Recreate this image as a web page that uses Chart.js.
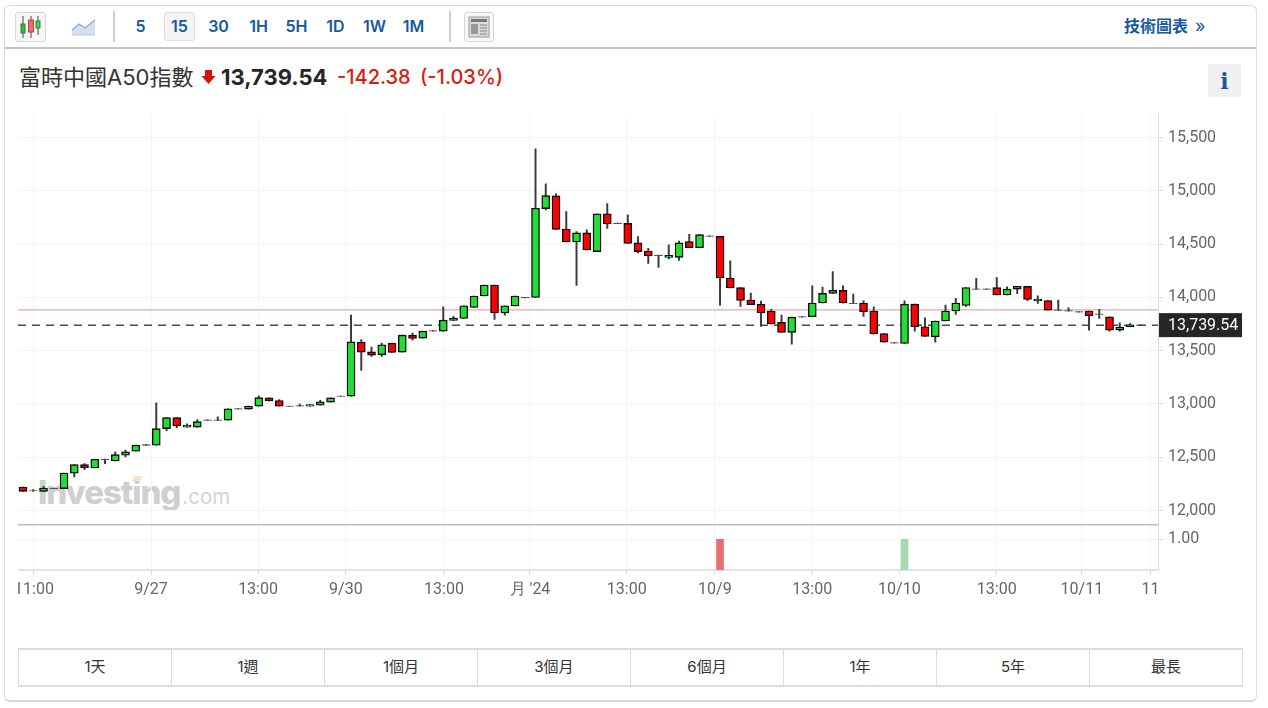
<!DOCTYPE html>
<html lang="zh-Hant">
<head>
<meta charset="utf-8">
<script src="https://cdn.jsdelivr.net/npm/chart.js@4"></script>
<style>
html,body{margin:0;padding:0;background:#fff;width:1268px;height:708px;overflow:hidden;font-family:Inter,"Noto Sans CJK TC",sans-serif}
.abs{position:absolute}
#card{left:4px;top:5px;width:1251px;height:694px;border:1px solid #dcdcdc;border-bottom:2px solid #d8d8d8;border-radius:6px;box-sizing:content-box}
#barline{left:5px;top:47px;width:1251px;height:2px;background:#c4c4c4}
.sep{top:11px;width:2px;height:31px;background:#cfcfcf}
.tf{top:12px;height:29px;line-height:29px;width:31px;text-align:center;color:#15589f;font-weight:600;font-size:16px;box-sizing:border-box}
.tf.on{border:1px solid #ddd;border-radius:3px;background:#f4f4f4;line-height:27px}
.iconbox{border:1px solid #d6d6d6;border-radius:3px;background:#f7f7f7;box-sizing:border-box}
#chartWrap{left:18px;top:100px;width:1226px;height:510px}
#range{left:18px;top:648px;width:1225px;height:39px;display:flex;border:1px solid #dcdcdc;border-top-width:2px;border-bottom-width:2px;box-sizing:border-box}
#range div{flex:1;text-align:center;font-size:15px;line-height:34px;color:#333;border-left:1px solid #dcdcdc}
#range div:first-child{border-left:none}
#wm{left:38px;top:471px;font-size:33px;font-weight:800;color:#cfcfcf;letter-spacing:-1.1px;font-family:Inter,sans-serif;line-height:42px}
#wm span{font-weight:400;font-size:20.500px;letter-spacing:0;color:#d4d4d4;margin-left:2px}
</style>
</head>
<body>
<div class="abs" id="card"></div>
<div class="abs" id="barline"></div>
<div class="abs iconbox" style="left:15px;top:12px;width:31px;height:30px">
<svg width="29" height="28"><g stroke="#444" stroke-width="1"><path d="M7 3V25M15 3V25M22 3V22"/></g><rect x="5" y="11" width="4" height="9" fill="#2ebd3a" stroke="#2a7d33"/><rect x="12.500" y="7" width="5" height="12" fill="#ef6a6a" stroke="#b84444"/><rect x="20" y="8" width="4" height="7" fill="#59c957" stroke="#2a7d33"/></svg></div>
<svg class="abs" style="left:71px;top:17px" width="25" height="20"><path d="M1 13L8 7L14 11L24 3V18H1Z" fill="#d5e0ef"/><path d="M1 13L8 7L14 11L24 3" fill="none" stroke="#8ca6c8" stroke-width="1.300"/><path d="M1 18H24" stroke="#b7c7de"/></svg>
<div class="abs sep" style="left:113px"></div>
<div class="abs tf" style="left:125px">5</div>
<div class="abs tf on" style="left:164px">15</div>
<div class="abs tf" style="left:203px">30</div>
<div class="abs tf" style="left:243px">1H</div>
<div class="abs tf" style="left:281px">5H</div>
<div class="abs tf" style="left:320px">1D</div>
<div class="abs tf" style="left:359px">1W</div>
<div class="abs tf" style="left:398px">1M</div>
<div class="abs sep" style="left:449px"></div>
<div class="abs iconbox" style="left:464px;top:12px;width:30px;height:30px">
<svg width="28" height="28"><rect x="4" y="4" width="20" height="20" fill="#d9d9d9" stroke="#9a9a9a"/><rect x="6" y="6" width="16" height="3" fill="#777"/><rect x="6" y="11" width="7" height="10" fill="#999"/><path d="M15 12H22M15 15H22M15 18H22M15 21H22" stroke="#888"/></svg></div>
<div class="abs" style="left:1124px;top:15px;font-size:16px;font-weight:600;color:#15589f;line-height:22px">技術圖表<span style="font-weight:400;font-size:18px;margin-left:7px">»</span></div>

<div class="abs" style="left:19px;top:62px;font-size:22px;line-height:30px;color:#333">富時中國A50指數</div>
<svg class="abs" style="left:201px;top:69px" width="15" height="16"><path d="M4 1H11V7H14.500L7.500 15L0.500 7H4Z" fill="#dd1100"/></svg>
<div class="abs" style="left:221px;top:62px;font-size:22px;line-height:30px;font-weight:700;color:#262626">13,739.54</div>
<div class="abs" style="left:337px;top:62px;font-size:20px;line-height:30px;font-weight:500;color:#dd1b0f">-142.38</div>
<div class="abs" style="left:420px;top:62px;font-size:20px;line-height:30px;font-weight:500;color:#dd1b0f">(-1.03%)</div>
<div class="abs" style="left:1208px;top:64px;width:33px;height:33px;background:#f0f0f0;border-radius:2px;text-align:center;font:bold 22px/35px 'DejaVu Serif',serif;color:#15589f">i</div>

<div class="abs" id="wm">Investing<span>.com</span></div>
<div class="abs" style="left:133px;top:476px;width:8px;height:5px;background:#f6e2c4;transform:skewX(-20deg)"></div>
<div class="abs" id="chartWrap"><canvas id="c" width="1226" height="510"></canvas></div>

<div class="abs" id="range"><div>1天</div><div>1週</div><div>1個月</div><div>3個月</div><div>6個月</div><div>1年</div><div>5年</div><div>最長</div></div>

<script>
const opens = [12221,12183,12180,12206,12205,12350,12430,12399,12478,12465,
12519,12556,12612,12613,12769,12872,12782,12782,12845,12845,
12848,12951,12951,12979,13057,13032,12976,12979,12979,12988,
13017,13070,13073,13580,13489,13461,13571,13486,13646,13618,
13684,13684,13783,13802,13905,14013,14116,13853,13919,13996,
13999,14833,14952,14642,14520,14605,14429,14783,14692,14695,
14511,14435,14391,14375,14375,14523,14466,14573,14573,14182,
14091,13975,13937,13872,13765,13671,13815,13818,13947,14037,
14065,13940,13947,13872,13661,13571,13567,13937,13724,13630,
13778,13872,13924,14075,14075,14091,14022,14078,14103,13966,
13971,13878,13870,13862,13872,13840,13818,13693,13724,13737];
const highs = [12221,12197,12226,12211,12352,12430,12440,12481,12483,12550,
12568,12613,12618,13010,12872,12872,12813,12853,12850,12879,
12954,12956,12979,13076,13057,13041,12981,12998,12994,13035,
13057,13075,13834,13605,13533,13571,13571,13646,13665,13684,
13689,13912,13821,13921,14013,14116,14116,13921,14013,14001,
15394,15065,14971,14805,14617,14633,14783,14880,14697,14774,
14570,14460,14396,14492,14529,14591,14589,14578,14573,14344,
14091,14041,13966,13887,13834,13815,13820,14109,14097,14241,
14109,14031,13968,13912,13661,13576,13968,13937,13809,13778,
13928,13990,14093,14178,14080,14185,14100,14103,14103,14015,
13971,13975,13903,13867,13872,13887,13818,13762,13755,13742];
const lows = [12180,12180,12180,12206,12205,12315,12383,12399,12440,12465,
12503,12556,12612,12613,12750,12778,12782,12782,12845,12845,
12848,12951,12951,12979,13029,12979,12976,12979,12979,12988,
13017,13070,13073,13314,13445,13445,13483,13486,13599,13618,
13684,13684,13783,13802,13905,14013,13793,13834,13919,13996,
13999,14821,14638,14520,14112,14445,14429,14648,14692,14507,
14417,14319,14281,14360,14347,14466,14466,14573,13928,14088,
13915,13931,13727,13750,13671,13562,13815,13818,13947,14037,
13947,13940,13821,13656,13580,13571,13567,13684,13633,13579,
13778,13840,13915,14075,14075,14022,14022,14034,13968,13943,
13881,13878,13870,13862,13693,13802,13684,13684,13724,13737];
const closes = [12180,12188,12211,12211,12352,12430,12402,12481,12483,12524,
12550,12613,12618,12769,12872,12794,12801,12834,12850,12850,
12954,12956,12979,13060,13029,12979,12981,12984,12994,13019,
13057,13075,13583,13486,13458,13555,13483,13646,13614,13684,
13689,13787,13806,13921,14013,14116,13853,13921,14013,14001,
14836,14955,14638,14520,14605,14445,14783,14689,14697,14507,
14429,14388,14396,14394,14511,14466,14589,14578,14182,14088,
13971,13931,13853,13750,13671,13815,13820,13947,14037,14065,
13947,13945,13865,13656,13580,13576,13937,13724,13633,13778,
13872,13947,14093,14080,14080,14022,14078,14103,13981,13984,
13881,13883,13875,13867,13828,13845,13693,13721,13743,13742];
const volumeBars = [{i:68,v:1,up:false},{i:86,v:1,up:true}];
const lastPrice = 13739.54;
const prevClose = 13881.92;
const priceTicks = [12000,12500,13000,13500,14000,14500,15000,15500];
const volumeTicks = [1];
const xTickIndex = [1.07,12.49,22.93,31.5,41.07,49.46,58.9,67.5,77,85.5,95,103.3,110];
const xTickLabels = ['11:00','9/27','13:00','9/30','13:00',"月 '24",'13:00','10/9','13:00','10/10','13:00','10/11','11'];

const xMin = -0.49, xMax = 110.73;
const UP='#22dd33', DOWN='#ff0000', EDGE='#0a0a0a', DOJI='#4a4a4a';
const isDoji = closes.map((c,i)=> Math.abs(c-opens[i])<=6);
const bodyColors = closes.map((c,i)=> isDoji[i] ? DOJI : (c>=opens[i] ? UP : DOWN));
const bodyEdges = closes.map((c,i)=> isDoji[i] ? DOJI : EDGE);

const overlay = {
  id:'overlay',
  afterDraw(chart){
    const {ctx,scales:{y,yVol},chartArea:a}=chart;
    ctx.save();
    ctx.fillStyle='#bdbdbd';
    ctx.fillRect(a.left,Math.round(yVol.top)-1,a.right-a.left,1.5);
    const py=y.getPixelForValue(lastPrice);
    ctx.fillStyle='#262626';
    ctx.fillRect(a.right+1,py-12,83,24);
    ctx.fillStyle='#fff';
    ctx.font='16px Roboto';
    ctx.textBaseline='middle';
    ctx.fillText(lastPrice.toLocaleString('en-US',{minimumFractionDigits:2}),a.right+10,py+0.5);
    ctx.restore();
  }
};

new Chart(document.getElementById('c'),{
  type:'bar',
  data:{datasets:[
    {label:'body',order:1,grouped:false,barThickness:8,borderWidth:1.4,borderColor:bodyEdges,borderSkipped:false,
     backgroundColor:bodyColors,
     data:opens.map((o,i)=>({x:i,y:[o,closes[i]]}))},
    {label:'wick',order:2,grouped:false,barThickness:1.3,borderWidth:0,backgroundColor:'#3a3a3a',
     data:highs.map((h,i)=>({x:i,y:[lows[i],h]}))},
    {label:'vol',order:1,grouped:false,yAxisID:'yVol',barThickness:7,borderWidth:0,
     backgroundColor:volumeBars.map(b=>b.up?'#a6d8b2':'#e56f6f'),
     data:volumeBars.map(b=>({x:b.i,y:b.v}))},
    {type:'line',label:'prev',order:3,borderColor:'#eaa7ab',borderWidth:1.3,pointRadius:0,
     data:[{x:xMin,y:prevClose},{x:xMax,y:prevClose}]},
    {type:'line',label:'last',order:3,borderColor:'#4a4a4a',borderWidth:1.5,borderDash:[8,6],pointRadius:0,
     data:[{x:xMin,y:lastPrice},{x:xMax,y:lastPrice}]}
  ]},
  plugins:[overlay],
  options:{
    responsive:false,animation:false,
    layout:{padding:{top:10,left:0,right:0,bottom:0}},
    plugins:{legend:{display:false},tooltip:{enabled:false}},
    scales:{
      x:{type:'linear',min:xMin,max:xMax,offset:false,
        afterBuildTicks(s){s.ticks=xTickIndex.map(v=>({value:v}));},
        afterFit(s){s.height=40;s.paddingLeft=0;s.paddingRight=0;},
        grid:{color:'#f5f5f5',tickColor:'#dcdcdc',tickLength:5,offset:false},
        border:{color:'#e2e2e8',width:2},
        ticks:{autoSkip:false,maxRotation:0,minRotation:0,padding:5,color:'#666',font:{family:'Roboto',size:16},
          callback(v,i){return xTickLabels[i];}}},
      y:{position:'right',stack:'p',stackWeight:415,min:11860,max:15715,
        afterFit(s){s.width=86;},
        afterBuildTicks(s){s.ticks=priceTicks.map(v=>({value:v}));},
        grid:{color:'#f5f5f5',tickColor:'#d8d8d8',tickLength:5},
        border:{color:'#dcdcdc'},
        ticks:{padding:5,color:'#666',font:{family:'Roboto',size:16},
          callback(v){return v.toLocaleString('en-US');}}},
      yVol:{position:'right',stack:'p',stackWeight:45,min:0,max:1.45,
        afterFit(s){s.width=86;},
        afterBuildTicks(s){s.ticks=volumeTicks.map(v=>({value:v}));},
        grid:{color:'#f5f5f5',tickColor:'#d8d8d8',tickLength:5},
        border:{color:'#dcdcdc'},
        ticks:{padding:5,color:'#666',font:{family:'Roboto',size:16},callback(v){return v.toFixed(2);}}}
    }
  }
});
</script>
</body>
</html>
